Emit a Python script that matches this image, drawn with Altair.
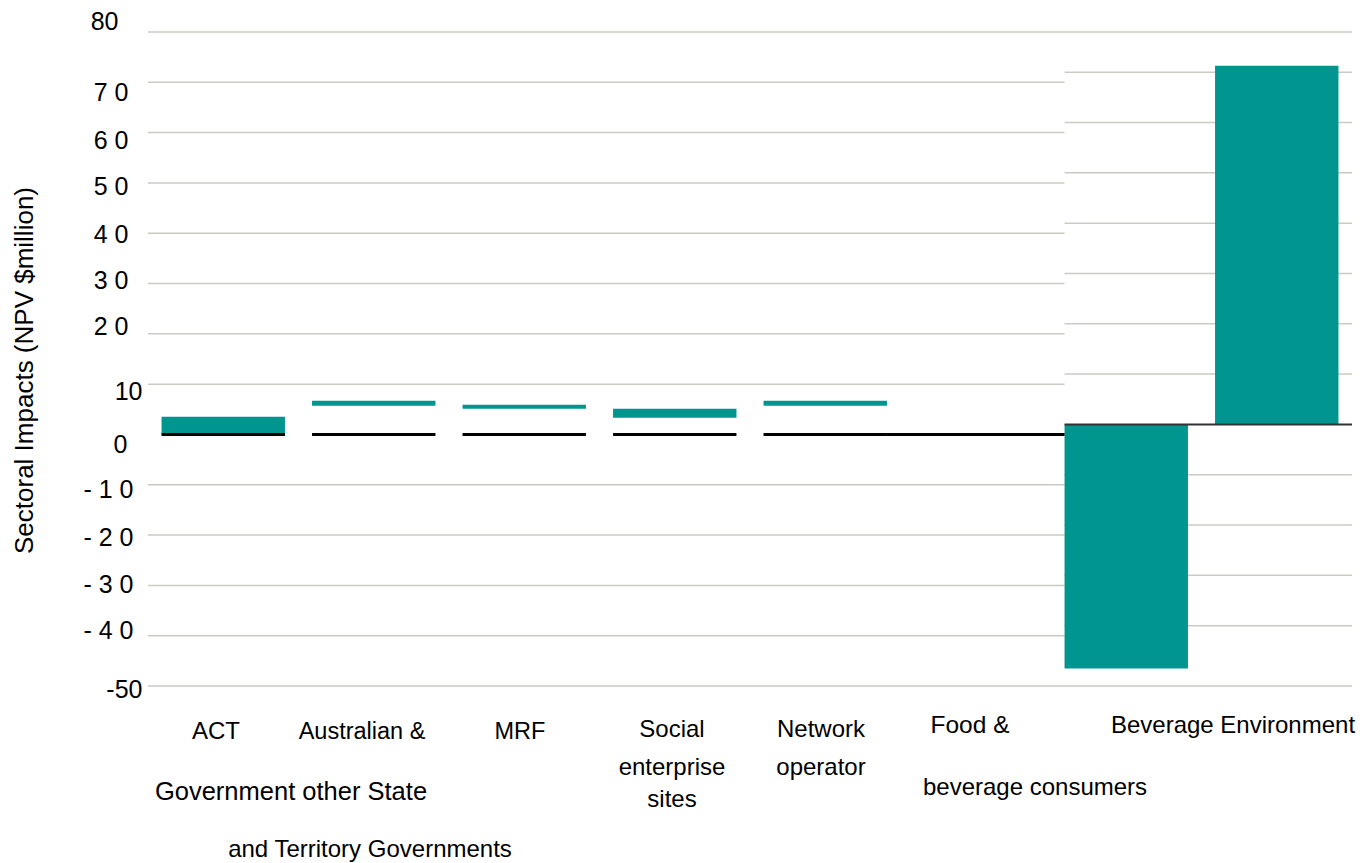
import altair as alt
import pandas as pd

# ---------------- data ----------------
CATEGORIES = [
    "ACT Government",
    "Australian & other State and Territory Governments",
    "MRF",
    "Social enterprise sites",
    "Network operator",
    "Food & beverage consumers",
    "Beverage industry",
    "Environment",
]
BAR_START = [0.0, 5.7, 5.1, 3.3, 5.7, 0.0, 2.0, 2.0]
BAR_END = [3.5, 6.7, 5.9, 5.1, 6.7, 0.0, -46.5, 73.3]

Y_TICKS = [80, 70, 60, 50, 40, 30, 20, 10, 0, -10, -20, -30, -40, -50]
Y_TICK_LABELS = ["80", "7 0", "6 0", "5 0", "4 0", "3 0", "2 0", "10", "0",
                 "- 1 0", "- 2 0", "- 3 0", "- 4 0", "-50"]

GRID_FULL = [80, -50]
GRID_LEFT = [70, 60, 50, 40, 30, 20, 10, -10, -20, -30, -40]
GRID_RIGHT = [72, 62, 52, 42, 32, 22, 12, -8, -18, -28, -38]
ZERO_LEFT = [0.0]
ZERO_RIGHT = [2.0]
BASE_SEGMENTS = ["ACT Government", "Australian & other State and Territory Governments",
                 "MRF", "Social enterprise sites", "Network operator"]
SPLIT_CATEGORY = "Beverage industry"

LABEL_TEXT = ["ACT", "Australian &", "MRF", "Social", "enterprise", "sites",
              "Network", "operator", "Food &", "Beverage Environment",
              "Government other State", "and Territory Governments", "beverage consumers"]

TITLE_Y = "Sectoral Impacts (NPV $million)"

# ---------------- layout / style ----------------
W, H = 1204, 654
PAD_L, PAD_T = 140, 24
TEAL = "#00968F"
GRID = "#CBCBC4"
FONT = "Liberation Sans"

# label layout: centre x and baseline y (page px), font size
LAB_X = [216, 362, 520, 672, 672, 672, 821, 821, 970, 1233, 291, 370, 1035]
LAB_BASE = [739, 739, 739, 737, 775, 807, 737, 775, 733, 733, 800, 857, 795]
LAB_SIZE = [24, 23.5, 23.5, 24, 24, 24, 24, 24, 24.5, 24, 25.5, 24, 24]

Y_LABEL_OFFSET = {80: -11, 70: 10, 60: 8, 50: 4, 40: 1.5, 30: -3, 20: -7.5, 10: 7,
                  0: 10, -10: 5, -20: 2, -30: -1, -40: -5.5, -50: 3}
Y_LABEL_PAD = {80: 30, 70: 20, 60: 20, 50: 20, 40: 20, 30: 20, 20: 20, 10: 6,
               0: 21, -10: 15, -20: 15, -30: 15, -40: 15, -50: 6}

# ---------------- tables ----------------
bars = pd.DataFrame({"cat": CATEGORIES, "start": BAR_START, "end": BAR_END})
g_full = pd.DataFrame({"v": GRID_FULL})
g_left = pd.DataFrame({"v": GRID_LEFT, "edge": SPLIT_CATEGORY})
g_right = pd.DataFrame({"v": GRID_RIGHT, "edge": SPLIT_CATEGORY})
seg = pd.DataFrame({"cat": BASE_SEGMENTS, "v": ZERO_LEFT * len(BASE_SEGMENTS)})
conn = pd.DataFrame({"a": ["Network operator"], "b": [SPLIT_CATEGORY], "v": ZERO_LEFT})
zr = pd.DataFrame({"edge": [SPLIT_CATEGORY], "v": ZERO_RIGHT})
labels = pd.DataFrame({
    "text": LABEL_TEXT,
    "px": [x - (PAD_L + 8) for x in LAB_X],
    "py": [y - (PAD_T + 8) for y in LAB_BASE],
    "fs": LAB_SIZE,
})

XS = alt.Scale(domain=CATEGORIES, paddingInner=0.18, paddingOuter=0.09)
YS = alt.Scale(domain=[-50, 80], nice=False, zero=False)


def cond(mapping, default):
    return {"condition": [{"test": f"datum.value === {k}", "value": v}
                          for k, v in mapping.items() if v != default],
            "value": default}


label_expr = " : ".join(f"datum.value === {v} ? '{t}'" for v, t in zip(Y_TICKS, Y_TICK_LABELS)) + " : ''"

Y_AXIS = alt.Axis(values=Y_TICKS, grid=False, ticks=False, domain=False,
                  labelExpr=label_expr, labelFont=FONT, labelFontSize=25,
                  labelColor="black", labelAlign="right", labelBaseline="middle",
                  labelOffset=cond(Y_LABEL_OFFSET, 0), labelPadding=cond(Y_LABEL_PAD, 20),
                  labelOverlap=False, labelBound=False, labelFlush=False,
                  title=TITLE_Y, titleFont=FONT, titleFontSize=26, titleFontWeight="normal",
                  titleColor="black", titleAngle=270, titleAlign="center",
                  titleBaseline="middle", titleX=-124, titleY=338)


def yenc(field):
    return alt.Y(field, type="quantitative", scale=YS, axis=Y_AXIS)


grid_full = alt.Chart(g_full).mark_rule(color=GRID, strokeWidth=1.5).encode(
    y=yenc("v"), x=alt.value(0), x2=alt.value(W))
grid_left = alt.Chart(g_left).mark_rule(color=GRID, strokeWidth=1.5).encode(
    y=yenc("v"), x=alt.X("edge:N", scale=XS, axis=None, bandPosition=0), x2=alt.value(0))
grid_right = alt.Chart(g_right).mark_rule(color=GRID, strokeWidth=1.5).encode(
    y=yenc("v"), x=alt.X("edge:N", scale=XS, axis=None, bandPosition=0), x2=alt.value(W))
bar_layer = alt.Chart(bars).mark_bar(color=TEAL).encode(
    x=alt.X("cat:N", scale=XS, axis=None), y=yenc("start"), y2="end")
seg_layer = alt.Chart(seg).mark_rule(color="black", strokeWidth=3).encode(
    x=alt.X("cat:N", scale=XS, axis=None, bandPosition=0),
    x2=alt.X2("cat", bandPosition=1), y=yenc("v"))
conn_layer = alt.Chart(conn).mark_rule(color="black", strokeWidth=3).encode(
    x=alt.X("a:N", scale=XS, axis=None, bandPosition=1),
    x2=alt.X2("b", bandPosition=0), y=yenc("v"))
zr_layer = alt.Chart(zr).mark_rule(color="#333333", strokeWidth=2).encode(
    x=alt.X("edge:N", scale=XS, axis=None, bandPosition=0), x2=alt.value(W), y=yenc("v"))

base = alt.layer(grid_full, grid_left, grid_right, bar_layer, seg_layer, conn_layer, zr_layer)

text_layer = alt.Chart(labels).mark_text(
    font=FONT, align="center", baseline="alphabetic", color="black"
).encode(
    x=alt.X("px:Q", scale=alt.Scale(domain=[0, W], range=[0, W], nice=False, zero=False), axis=None),
    y=alt.Y("py:Q", scale=alt.Scale(domain=[0, H], range=[0, H], nice=False, zero=False), axis=None),
    size=alt.Size("fs:Q", scale=None, legend=None),
    text="text:N",
)

chart = alt.layer(base, text_layer).resolve_scale(
    x="independent", y="independent"
).properties(
    width=W, height=H,
    autosize=alt.AutoSizeParams(type="none"),
    padding={"left": PAD_L, "top": PAD_T, "right": 10, "bottom": 176},
    background="white",
).configure_view(stroke=None)

chart.save("out.html", embed_options={"renderer": "svg", "actions": False})
